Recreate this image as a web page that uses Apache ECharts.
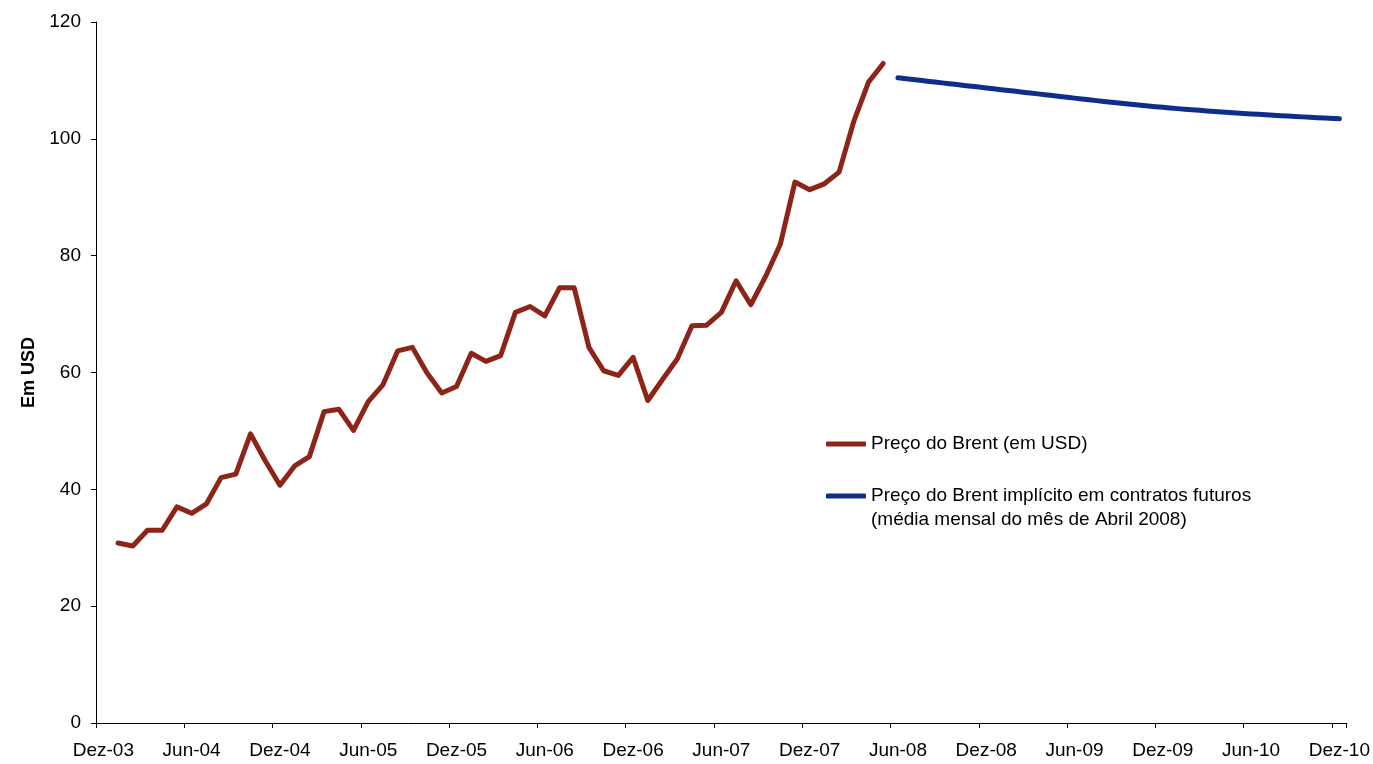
<!DOCTYPE html>
<html>
<head>
<meta charset="utf-8">
<title>Preço do Brent</title>
<script src="https://cdn.jsdelivr.net/npm/echarts@6/dist/echarts.min.js"></script>
<style>
  html, body { margin: 0; padding: 0; background: #ffffff; }
  #chart { width: 1373px; height: 764px; }
</style>
</head>
<body>
<div id="chart"></div>
<script>
// Monthly categories, Dez-03 .. Dez-10
const categories = [
  'Dez-03',
  'Jan-04','Fev-04','Mar-04','Abr-04','Mai-04','Jun-04','Jul-04','Ago-04','Set-04','Out-04','Nov-04','Dez-04',
  'Jan-05','Fev-05','Mar-05','Abr-05','Mai-05','Jun-05','Jul-05','Ago-05','Set-05','Out-05','Nov-05','Dez-05',
  'Jan-06','Fev-06','Mar-06','Abr-06','Mai-06','Jun-06','Jul-06','Ago-06','Set-06','Out-06','Nov-06','Dez-06',
  'Jan-07','Fev-07','Mar-07','Abr-07','Mai-07','Jun-07','Jul-07','Ago-07','Set-07','Out-07','Nov-07','Dez-07',
  'Jan-08','Fev-08','Mar-08','Abr-08','Mai-08','Jun-08','Jul-08','Ago-08','Set-08','Out-08','Nov-08','Dez-08',
  'Jan-09','Fev-09','Mar-09','Abr-09','Mai-09','Jun-09','Jul-09','Ago-09','Set-09','Out-09','Nov-09','Dez-09',
  'Jan-10','Fev-10','Mar-10','Abr-10','Mai-10','Jun-10','Jul-10','Ago-10','Set-10','Out-10','Nov-10','Dez-10'
];

// Brent spot price, Jan-04 .. Mai-08 (USD)
const brentSpot = [
  30.8, 30.3, 33.0, 33.0, 37.0, 35.9, 37.5, 42.0, 42.6, 49.5, 44.9, 40.7,
  44.0, 45.6, 53.3, 53.7, 50.1, 55.0, 57.9, 63.7, 64.3, 59.9, 56.5, 57.6,
  63.3, 61.9, 62.9, 70.3, 71.3, 69.7, 74.5, 74.5, 64.3, 60.3, 59.5, 62.6,
  55.2, 58.8, 62.3, 68.0, 68.1, 70.3, 75.7, 71.6, 76.4, 81.9, 92.6, 91.3,
  92.3, 94.3, 103.0, 109.7, 112.9
];

// Brent price implied by futures contracts, Jun-08 .. Dez-10 (USD)
const brentFutures = [
  110.45, 110.16, 109.87, 109.58, 109.29, 109.00, 108.71,
  108.42, 108.13, 107.84, 107.55, 107.26, 106.97, 106.68, 106.40, 106.13, 105.87, 105.62, 105.39,
  105.17, 104.97, 104.78, 104.60, 104.43, 104.27, 104.12, 103.97, 103.83, 103.69, 103.56, 103.43
];

const spotName = 'Preço do Brent (em USD)';
const futuresName = 'Preço do Brent implícito em contratos futuros';
const futuresNote = '(média mensal do mês de Abril 2008)';

// Place each series on its own months of the shared axis
const spotStart = categories.indexOf('Jan-04');
const futuresStart = categories.indexOf('Jun-08');
const spotData = categories.map((_, i) =>
  (i >= spotStart && i < spotStart + brentSpot.length) ? brentSpot[i - spotStart] : null);
const futuresData = categories.map((_, i) =>
  (i >= futuresStart && i < futuresStart + brentFutures.length) ? brentFutures[i - futuresStart] : null);

const FONT = '"Liberation Sans", Arial, sans-serif';
const FS = 19;
const RED = '#8C2418';
const BLUE = '#0F2E8C';

const chart = echarts.init(document.getElementById('chart'), null, { renderer: 'canvas' });

chart.setOption({
  backgroundColor: '#ffffff',
  animation: false,
  textStyle: { fontFamily: FONT, color: '#000' },
  grid: { left: 96, right: 26, top: 22, bottom: 41, containLabel: false },
  legend: [
    {
      data: [spotName],
      left: 821, top: 427,
      orient: 'vertical',
      icon: 'roundRect',
      itemWidth: 40, itemHeight: 5,
      selectedMode: false,
      textStyle: { fontFamily: FONT, fontSize: FS, color: '#000', lineHeight: 24 }
    },
    {
      data: [futuresName],
      left: 821, top: 455,
      orient: 'vertical',
      icon: 'roundRect',
      itemWidth: 40, itemHeight: 5,
      selectedMode: false,
      // blank first line keeps the swatch level with the series name
      formatter: (name) => ' \n' + name + '\n' + futuresNote,
      textStyle: { fontFamily: FONT, fontSize: FS, color: '#000', lineHeight: 24 }
    }
  ],
  xAxis: {
    type: 'category',
    data: categories,
    boundaryGap: true,
    axisLine: { lineStyle: { color: '#000', width: 1 } },
    axisTick: { show: true, interval: 5, length: 5, lineStyle: { color: '#000' } },
    axisLabel: { interval: 5, margin: 18, fontFamily: FONT, fontSize: FS, color: '#000' },
    splitLine: { show: false }
  },
  yAxis: {
    type: 'value',
    min: 0, max: 120, interval: 20,
    name: 'Em USD',
    nameLocation: 'middle',
    nameGap: 54,
    nameTextStyle: { fontFamily: FONT, fontSize: 18, fontWeight: 'bold', color: '#000' },
    axisLine: { show: true, lineStyle: { color: '#000', width: 1 } },
    axisTick: { show: true, length: 5, lineStyle: { color: '#000' } },
    axisLabel: { margin: 15, fontFamily: FONT, fontSize: FS, color: '#000' },
    splitLine: { show: false }
  },
  series: [
    {
      name: spotName,
      type: 'line',
      data: spotData,
      showSymbol: false,
      symbol: 'none',
      connectNulls: false,
      lineStyle: { color: RED, width: 5, cap: 'round', join: 'round' },
      itemStyle: { color: RED }
    },
    {
      name: futuresName,
      type: 'line',
      data: futuresData,
      showSymbol: false,
      symbol: 'none',
      smooth: 0.5,
      lineStyle: { color: BLUE, width: 5, cap: 'round', join: 'round' },
      itemStyle: { color: BLUE }
    }
  ]
});
</script>
</body>
</html>
